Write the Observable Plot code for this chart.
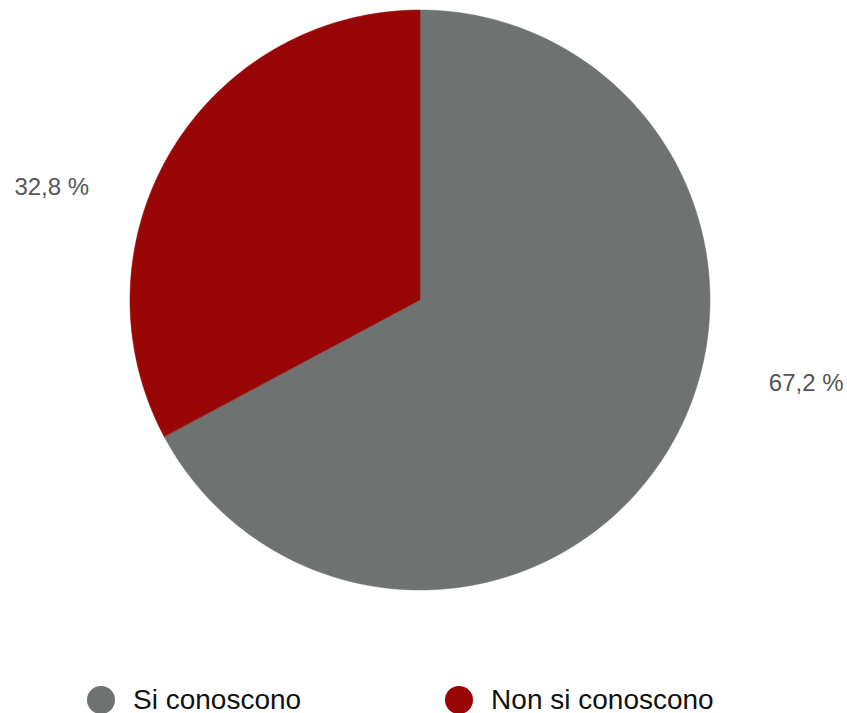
<!DOCTYPE html>
<html>
<head>
<meta charset="utf-8">
<script src="https://cdn.jsdelivr.net/npm/d3@7"></script>
<script src="https://cdn.jsdelivr.net/npm/@observablehq/plot@0.6"></script>
<style>
  html, body { margin: 0; padding: 0; background: #fff; }
  body { width: 847px; height: 713px; overflow: hidden; font-family: Helvetica, Arial, "Liberation Sans", sans-serif; }
  #legend { display: flex; align-items: center; padding-left: 87px; margin-top: 13px; height: 53px; font-size: 28px; color: #111; }
  .item { display: flex; align-items: center; }
  .dot { width: 28px; height: 28px; border-radius: 50%; margin-right: 18px; }
</style>
</head>
<body>
<div id="chart"></div>
<div id="legend"></div>
<script>
const categories = ["Si conoscono", "Non si conoscono"];
const values = [67.2, 32.8];
const valueLabels = ["67,2 %", "32,8 %"];
const colors = ["#6e7371", "#990606"];

const rows = categories.map((c, i) => ({cat: c, value: values[i], label: valueLabels[i]}));
const arcs = d3.pie().sort(null).value(d => d.value)(rows);

// wedge outlines along each arc (angles from 12 o'clock, clockwise)
const wedgePts = [];
for (const a of arcs) {
  const n = 180;
  for (let k = 0; k <= n; k++) {
    const t = a.startAngle + (a.endAngle - a.startAngle) * k / n;
    wedgePts.push({cat: a.data.cat, x1: 0, y1: 0, x2: Math.sin(t), y2: Math.cos(t)});
  }
}

// label placement: outside the pie, shifted from the slice middle
const labelShift = {"Si conoscono": -18.9, "Non si conoscono": -13.9};
const labelRadius = {"Si conoscono": 1.36, "Non si conoscono": 1.33};
const labelPts = arcs.map(a => {
  const mid = (a.startAngle + a.endAngle) / 2 + labelShift[a.data.cat] * Math.PI / 180;
  const r = labelRadius[a.data.cat];
  return {text: a.data.label, x: r * Math.sin(mid), y: r * Math.cos(mid)};
});

const plot = Plot.plot({
  width: 847,
  height: 660,
  margin: 0,
  style: {fontFamily: 'Helvetica, Arial, "Liberation Sans", sans-serif', background: "#fff"},
  x: {domain: [-1, 1], range: [130, 710], axis: null},
  y: {domain: [-1, 1], range: [590, 10], axis: null},
  color: {domain: categories, range: colors},
  marks: [
    Plot.area(wedgePts, {x1: "x1", y1: "y1", x2: "x2", y2: "y2", z: "cat", fill: "cat", stroke: "cat", strokeWidth: 0.5}),
    Plot.text(labelPts, {x: "x", y: "y", text: "text", fontSize: 24, fill: "#555"})
  ]
});
document.getElementById("chart").appendChild(plot);

const legend = document.getElementById("legend");
categories.forEach((c, i) => {
  const item = document.createElement("div");
  item.className = "item";
  if (i > 0) item.style.marginLeft = "144px";
  const dot = document.createElement("span");
  dot.className = "dot";
  dot.style.background = colors[i];
  const txt = document.createElement("span");
  txt.textContent = c;
  item.appendChild(dot);
  item.appendChild(txt);
  legend.appendChild(item);
});
</script>
</body>
</html>
